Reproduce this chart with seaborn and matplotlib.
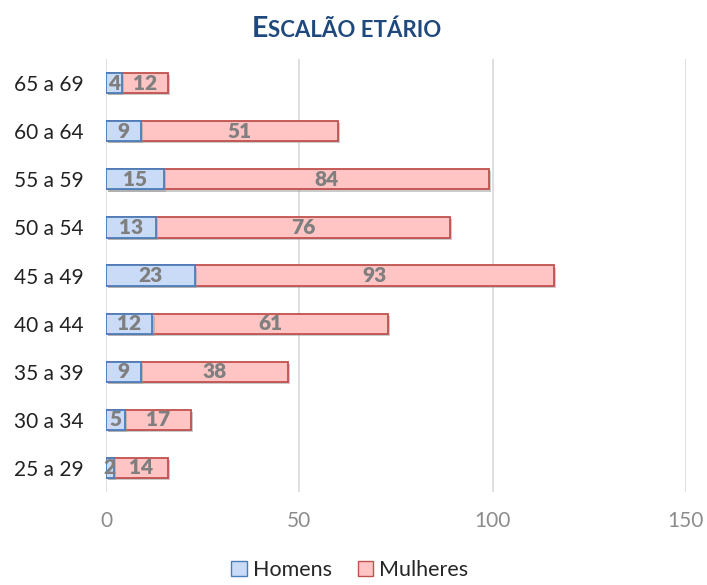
import matplotlib
matplotlib.use("Agg")
import matplotlib.pyplot as plt
import matplotlib.patheffects as pe
from matplotlib.patches import Patch
import pandas as pd
import seaborn as sns

# Data (top to bottom as shown)
faixas = ['65 a 69', '60 a 64', '55 a 59', '50 a 54', '45 a 49',
          '40 a 44', '35 a 39', '30 a 34', '25 a 29']
homens = [4, 9, 15, 13, 23, 12, 9, 5, 2]
mulheres = [12, 51, 84, 76, 93, 61, 38, 17, 14]

df = pd.DataFrame({'faixa': faixas, 'homens': homens, 'mulheres': mulheres})
df['total'] = df['homens'] + df['mulheres']

sns.set_style('white')
plt.rcParams['font.family'] = ['Lato', 'DejaVu Sans']

blue_face, blue_edge = '#c9dbf6', '#4a7ebb'
pink_face, pink_edge = '#ffc4c4', '#c0504d'

fig = plt.figure(figsize=(7.07, 5.85), dpi=100)
ax = fig.add_axes([0.15, 0.159, 0.82, 0.74])

shadow = [pe.SimplePatchShadow(offset=(1.5, -1.5), shadow_rgbFace='#999999', alpha=0.5), pe.Normal()]

# stacked look: totals in pink, men drawn on top in blue
sns.barplot(data=df, x='total', y='faixa', order=faixas, orient='h', width=0.42,
            color=pink_face, edgecolor=pink_edge, linewidth=1.3, saturation=1, ax=ax)
sns.barplot(data=df, x='homens', y='faixa', order=faixas, orient='h', width=0.42,
            color=blue_face, edgecolor=blue_edge, linewidth=1.3, saturation=1, ax=ax)
for p in ax.patches:
    p.set_path_effects(shadow)

# value labels
for i, (h, m) in enumerate(zip(homens, mulheres)):
    ax.text(h / 2, i, str(h), ha='center', va='center', fontsize=15,
            fontweight='heavy', color='#7f7f7f')
    ax.text(h + m / 2, i, str(m), ha='center', va='center', fontsize=15,
            fontweight='heavy', color='#7f7f7f')

ax.set_xlim(0, 150)
ax.set_xticks([0, 50, 100, 150])
ax.set_ylim(len(faixas) - 0.5, -0.5)
ax.grid(axis='x', color='#d9d9d9', linewidth=1.2)
ax.set_axisbelow(True)
for s in ax.spines.values():
    s.set_visible(False)
ax.set_xlabel('')
ax.set_ylabel('')
ax.tick_params(axis='x', length=0, pad=14, labelsize=15, labelcolor='#8c8c8c')
ax.tick_params(axis='y', length=0, pad=16, labelsize=15, labelcolor='#222222')

# title in small caps
fig.text(0.379, 0.937, 'E', ha='right', va='baseline', fontsize=20.5,
         fontweight='bold', color='#1f497d')
fig.text(0.379, 0.937, 'SCALÃO ETÁRIO', ha='left', va='baseline', fontsize=16,
         fontweight='bold', color='#1f497d')

handles = [Patch(facecolor=blue_face, edgecolor=blue_edge, label='Homens'),
           Patch(facecolor=pink_face, edgecolor=pink_edge, label='Mulheres')]
fig.legend(handles=handles, loc='lower center', bbox_to_anchor=(0.495, -0.024), ncol=2,
           frameon=False, fontsize=15.5, handlelength=0.7, handleheight=0.7,
           handletextpad=0.3, columnspacing=1.2)

fig.savefig('out.png', dpi=100)
